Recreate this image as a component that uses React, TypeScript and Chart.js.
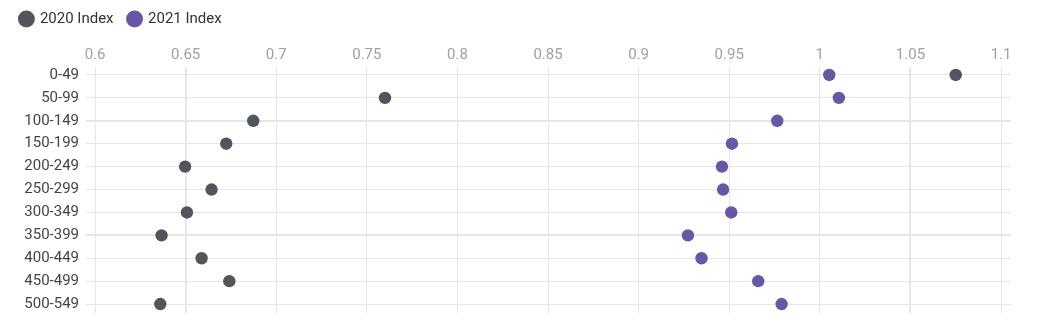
import React, { useEffect, useRef } from "react";
import { Chart, registerables } from "chart.js";

Chart.register(...registerables);

const categories = ["0-49", "50-99", "100-149", "150-199", "200-249", "250-299", "300-349", "350-399", "400-449", "450-499", "500-549"];
const index2020 = [1.075, 0.76, 0.6873, 0.6724, 0.6497, 0.6643, 0.6507, 0.6367, 0.6588, 0.6741, 0.636];
const index2021 = [1.0052, 1.0105, 0.9765, 0.9515, 0.946, 0.9466, 0.9511, 0.9272, 0.9347, 0.966, 0.9789];
const xTicks = [0.6, 0.65, 0.7, 0.75, 0.8, 0.85, 0.9, 0.95, 1, 1.05, 1.1];
const xTickLabels = ["0.6", "0.65", "0.7", "0.75", "0.8", "0.85", "0.9", "0.95", "1", "1.05", "1.1"];
const seriesNames = ["2020 Index", "2021 Index"];
const seriesColors = ["#52555c", "#6856a7"];

const FONT = "Roboto";
const GRID = "#e6e6e6";

export default function App() {
  const ref = useRef<HTMLCanvasElement | null>(null);

  useEffect(() => {
    if (!ref.current) return;
    const mk = (vals: number[]) => vals.map((v, i) => ({ x: v, y: i }));
    const chart = new Chart(ref.current, {
      type: "scatter",
      data: {
        datasets: [
          {
            label: seriesNames[0],
            data: mk(index2020),
            backgroundColor: seriesColors[0],
            borderColor: seriesColors[0],
            borderWidth: 0,
            pointRadius: 6.2,
            pointStyle: "circle",
          },
          {
            label: seriesNames[1],
            data: mk(index2021),
            backgroundColor: seriesColors[1],
            borderColor: seriesColors[1],
            borderWidth: 0,
            pointRadius: 6.2,
            pointStyle: "circle",
          },
        ],
      },
      options: {
        animation: false,
        responsive: true,
        maintainAspectRatio: false,
        events: [],
        layout: { padding: { top: -11.5, left: -2.6, right: 20, bottom: 14 } },
        plugins: {
          tooltip: { enabled: false },
          legend: {
            position: "top",
            align: "start",
            labels: {
              usePointStyle: true,
              boxWidth: 12,
              boxHeight: 12,
              padding: 15,
              color: "#333",
              font: { family: FONT, size: 15 },
            },
          },
        },
        scales: {
          x: {
            type: "linear",
            position: "top",
            min: 0.595,
            max: 1.1055,
            afterBuildTicks: (s: any) => {
              s.ticks = xTicks.map((v) => ({ value: v }));
            },
            afterFit: (s: any) => {
              s.height = 30.5;
              s.paddingLeft = 0;
              s.paddingRight = 0;
            },
            ticks: {
              padding: 3,
              color: "#a0a0a0",
              font: { family: FONT, size: 15 },
              callback: (v: any) => {
                const i = xTicks.indexOf(Number(v));
                return i >= 0 ? xTickLabels[i] : "";
              },
            },
            grid: {
              color: GRID,
              drawTicks: false,
              lineWidth: (c: any) => (c.tick && (c.tick.value === 0.65 || c.tick.value === 1.05) ? 2 : 1),
            },
            border: { display: false },
          },
          y: {
            type: "linear",
            reverse: true,
            min: -0.348,
            max: 10.39,
            afterBuildTicks: (s: any) => {
              s.ticks = categories.map((_, i) => ({ value: i }));
            },
            afterFit: (s: any) => {
              s.width = 80.6;
              s.paddingTop = 0;
              s.paddingBottom = 0;
            },
            ticks: {
              autoSkip: false,
              padding: 7,
              color: "#444",
              font: { family: FONT, size: 15 },
              callback: (v: any) => categories[Number(v)] ?? "",
            },
            grid: {
              color: GRID,
              drawTicks: false,
              lineWidth: (c: any) => (c.tick && (c.tick.value === 2 || c.tick.value === 7) ? 2 : 1),
            },
            border: { display: false },
          },
        },
      },
    });
    return () => chart.destroy();
  }, []);

  return (
    <div style={{ position: "relative", width: "100%", height: "319px" }}>
      <canvas ref={ref} />
    </div>
  );
}
